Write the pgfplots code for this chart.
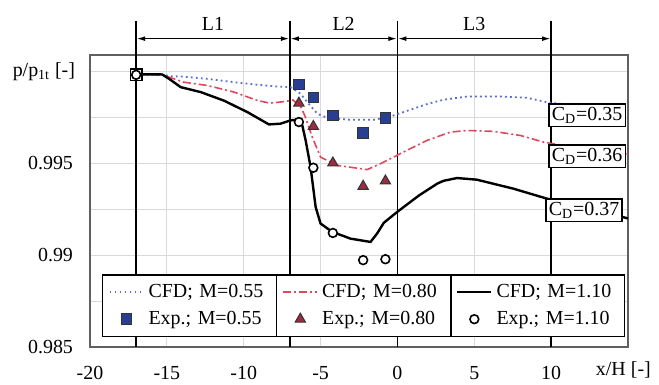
\documentclass[border=0pt]{standalone}
\usepackage{fontspec}
\setmainfont{Liberation Serif}
\usepackage{pgfplots}
\usepackage{pgfplotstable}
\pgfplotsset{compat=1.18}
\usetikzlibrary{arrows.meta,calc}
\definecolor{sqblue}{RGB}{40,62,145}
\definecolor{trired}{RGB}{155,45,65}
\definecolor{cfdblue}{RGB}{90,110,210}
\definecolor{cfdred}{RGB}{225,70,95}

\pgfplotstableread{
x y
-17 0.99985
-15.3 0.99984
-14.85 0.99975
-13.9 0.99972
-12.36 0.9996
-10.63 0.99942
-9.1 0.99928
-7.8 0.99918
-6.95 0.99915
-6.3 0.99879
-5.86 0.99833
-5.21 0.9977
-4.56 0.99748
-3.05 0.99737
-1.54 0.99737
-0.45 0.99755
0.84 0.99792
2.0 0.99825
3.0 0.99846
4.53 0.99864
6.69 0.99864
8.42 0.99857
9.72 0.99833
12 0.9981
15 0.9979
}\cfdA

\pgfplotstableread{
x y
-17 0.99985
-15.3 0.99982
-14.85 0.99969
-13.9 0.99942
-12.36 0.99924
-10.63 0.99888
-9.1 0.99842
-8.3 0.99828
-7.38 0.99836
-6.8 0.99845
-6.3 0.9981
-6.0 0.99755
-5.54 0.99643
-5.0 0.99534
-3.92 0.99489
-1.97 0.99466
-1.1 0.99498
-0.24 0.99534
0.19 0.99553
1.93 0.99625
3.44 0.9967
4.53 0.99679
6.25 0.99674
7.99 0.99652
9.5 0.99616
12 0.9958
15 0.9955
}\cfdB

\pgfplotstableread{
x y
-17 0.99985
-15.3 0.99984
-14.85 0.9996
-14.1 0.99915
-12.8 0.99888
-11.3 0.99842
-9.76 0.99779
-8.36 0.99712
-7.6 0.99716
-6.95 0.99734
-6.6 0.99737
-6.19 0.99707
-5.97 0.99625
-5.65 0.9948
-5.32 0.99262
-5.0 0.99172
-4.24 0.99127
-3.05 0.9909
-1.75 0.99072
-1.32 0.99118
-0.89 0.99176
-0.02 0.99235
1.4 0.99325
2.6 0.9939
3.0 0.99405
3.88 0.9942
5.17 0.99411
7.55 0.99362
9.72 0.99308
12.5 0.99255
15 0.9920
}\cfdC

\pgfplotstableread{
x y
-6.41 0.99929
-5.47 0.99860
-4.2 0.99761
-2.23 0.99665
-0.78 0.99746
}\expA

\pgfplotstableread{
x y
-6.41 0.99828
-5.47 0.99701
-4.2 0.99502
-2.23 0.99375
-0.78 0.99404
}\expB

\pgfplotstableread{
x y
-17 0.99982
-6.41 0.99725
-5.47 0.99476
-4.2 0.99121
-2.23 0.98973
-0.78 0.98978
}\expC

\begin{document}
\fontsize{10}{12}\selectfont
\begin{tikzpicture}
\useasboundingbox (-45bp,-19bp) rectangle (284.5bp,173.5bp);
\begin{axis}[
  at={(0,0)}, anchor=south west,
  scale only axis, width=269bp, height=146bp,
  xmin=-20, xmax=15, ymin=0.985, ymax=1.0009,
  xtick={-20,-15,-10,-5,0,5,10},
  xticklabels={-20,-15,-10,-5,0,5,10},
  ytick={0.985,0.9875,0.99,0.9925,0.995,0.9975,1},
  yticklabels={0.985,,0.99,,0.995,,},
  grid=major, grid style={gray!30, line width=0.5bp},
  major tick length=0pt,
  axis line style={gray!75!black, line width=0.7bp},
  xticklabel style={yshift=-6bp, font=\fontsize{10}{12}\selectfont},
  yticklabel style={xshift=-5bp, font=\fontsize{10}{12}\selectfont},
  clip=false,
  legend columns=3,
  legend cell align=left,
  legend style={name=leg, at={(0.0223,0.0342)}, anchor=south west,
    draw=black, line width=0.7bp, inner xsep=3bp, inner ysep=2.5bp,
    row sep=1.5bp,
    nodes={text width=59bp, align=left, inner sep=2bp, font=\fontsize{10}{12}\selectfont},
    /tikz/every even column/.append style={column sep=6bp}},
]
% region boundaries
\draw[black, line width=0.8bp] (axis cs:-17,1.00277) -- (axis cs:-17,0.985);
\draw[black, line width=0.8bp] (axis cs:-7,1.00277) -- (axis cs:-7,0.985);
\draw[black, line width=0.8bp] (axis cs:0,1.00277) -- (axis cs:0,0.985);
\draw[black, line width=0.8bp] (axis cs:10,1.00277) -- (axis cs:10,0.985);
\draw[line width=0.8bp, {Latex[length=4.5bp,width=2.4bp]}-{Latex[length=4.5bp,width=2.4bp]}] (axis cs:-17,1.00179) -- (axis cs:-7,1.00179);
\draw[line width=0.8bp, {Latex[length=4.5bp,width=2.4bp]}-{Latex[length=4.5bp,width=2.4bp]}] (axis cs:-7,1.00179) -- (axis cs:0,1.00179);
\draw[line width=0.8bp, {Latex[length=4.5bp,width=2.4bp]}-{Latex[length=4.5bp,width=2.4bp]}] (axis cs:0,1.00179) -- (axis cs:10,1.00179);
\node at (axis cs:-12,1.00258) {L1};
\node at (axis cs:-3.5,1.00258) {L2};
\node at (axis cs:5,1.00258) {L3};

\addplot[cfdblue, line width=0.9bp, dash pattern=on 0.9bp off 1.6bp] table {\cfdA};
\addlegendentry{CFD; M=0.55}
\addplot[cfdred, line width=0.8bp, dash pattern=on 4bp off 1.5bp on 1bp off 1.5bp] table {\cfdB};
\addlegendentry{CFD; M=0.80}
\addplot[black, line width=1.2bp] table {\cfdC};
\addlegendentry{CFD; M=1.10}
\addplot[only marks, mark=square*, mark size=2.6bp, mark options={fill=sqblue, draw=black!80, line width=0.5bp}] table {\expA};
\addlegendentry{Exp.; M=0.55}
\addplot[only marks, mark=triangle*, mark size=3bp, mark options={fill=trired, draw=black!80, line width=0.5bp}] table {\expB};
\addlegendentry{Exp.; M=0.80}
\addplot[only marks, mark=*, mark size=2.2bp, mark options={fill=white, draw=black, line width=0.8bp}] table {\expC};
\addlegendentry{Exp.; M=1.10}
\addplot[only marks, forget plot, mark=square, mark size=2.8bp, mark options={draw=black, line width=0.8bp}] coordinates {(-17,0.99982)};

\node[draw=black, fill=white, line width=0.8bp, inner sep=1.5bp] at (axis cs:12.34,0.99761) {C\textsubscript{D}=0.35};
\node[draw=black, fill=white, line width=0.8bp, inner sep=1.5bp] at (axis cs:12.34,0.99538) {C\textsubscript{D}=0.36};
\node[draw=black, fill=white, line width=0.8bp, inner sep=1.5bp] at (axis cs:12.14,0.99245) {C\textsubscript{D}=0.37};

\node[anchor=east] at (axis cs:-20,1.0) [xshift=-4bp] {p/p\textsubscript{1t} [-]};
\node[anchor=north] at (axis cs:14.7,0.985) [yshift=-4bp] {x/H [-]};
\end{axis}
\draw[line width=0.7bp] ($(leg.north west)!1/3!(leg.north east)$) -- ($(leg.south west)!1/3!(leg.south east)$);
\draw[line width=0.7bp] ($(leg.north west)!2/3!(leg.north east)$) -- ($(leg.south west)!2/3!(leg.south east)$);
\end{tikzpicture}
\end{document}
